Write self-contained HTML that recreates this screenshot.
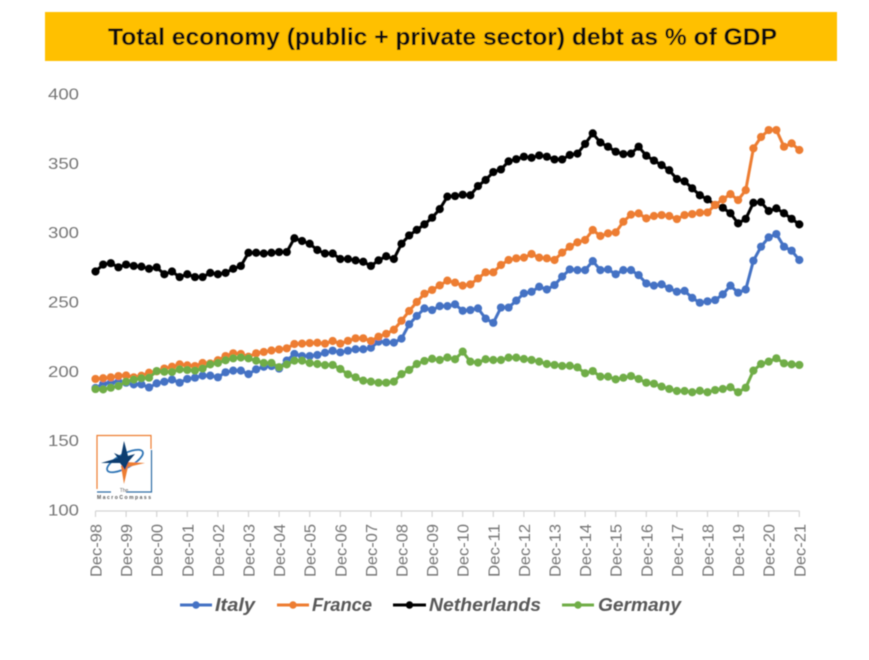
<!DOCTYPE html>
<html lang="en">
<head>
<meta charset="utf-8">
<title>Total economy debt as % of GDP</title>
<style>
html,body{margin:0;padding:0;background:#fff;}
body{width:869px;height:660px;overflow:hidden;}
svg{display:block;font-family:"Liberation Sans",sans-serif;}
</style>
</head>
<body>
<svg id="chart" width="869" height="660" viewBox="0 0 869 660" xmlns="http://www.w3.org/2000/svg">
  <defs>
    <filter id="soft" x="-5%" y="-5%" width="110%" height="110%"><feGaussianBlur stdDeviation="0.55"/></filter>
  </defs>
  <rect width="869" height="660" fill="#fff"/>
  <g filter="url(#soft)">
    <rect x="45" y="12" width="792" height="49" fill="#FFC000"/>
    <text x="108" y="45" font-size="24.500" font-weight="700" fill="#111" textLength="669" lengthAdjust="spacingAndGlyphs">Total economy (public + private sector) debt as % of GDP</text>
    <g id="y-axis"></g>
    <g id="x-axis"></g>
    <g id="series"></g>
    <g>
      <path d="M97 489V435.5H151V449" fill="none" stroke="#ED7D31" stroke-width="1.2"/>
      <path d="M151.500 450V492H126M111 492H97" fill="none" stroke="#2E6DA4" stroke-width="1.2"/>
      <ellipse cx="125" cy="461" rx="20" ry="7" transform="rotate(-28 125 461)" fill="none" stroke="#2E75B6" stroke-width="1.800"/>
      <polygon points="124,484 121,466 125,462 145,463 128,467" fill="#ED7D31"/>
      <polygon points="124,441 128,456 135,454 129,461 125,470 120,463 101,463 118,458 114,453 121,456" fill="#0B3C6F"/>
      <text x="124" y="492" font-size="5" fill="#666" text-anchor="middle">The</text>
      <text x="97" y="499" font-size="5" font-weight="700" fill="#555" textLength="54">MacroCompass</text>
    </g>
    <g id="legend"></g>
  </g>
</svg>
<script>
const quarterCount = 93;
const yTicks = [100, 150, 200, 250, 300, 350, 400];
const xTickLabels = ["Dec-98","Dec-99","Dec-00","Dec-01","Dec-02","Dec-03","Dec-04","Dec-05","Dec-06","Dec-07","Dec-08","Dec-09","Dec-10","Dec-11","Dec-12","Dec-13","Dec-14","Dec-15","Dec-16","Dec-17","Dec-18","Dec-19","Dec-20","Dec-21"];
const italy = [188,191,191.8,192.5,191.8,190.6,190.6,188.4,191.3,192.5,194,191.8,194.5,195.4,196.9,196.9,195.7,199.3,200.5,200.5,198,201.4,203.3,203.8,202,207.7,212.5,211,211,211.8,213.4,214.9,213.7,214.9,215.9,215.9,217,221.4,221,220.7,223.6,233.9,239.9,245.4,244.2,247,247,248.3,243.7,244.2,245.4,238,235,246,246,251,256.2,257.4,261,259,262.2,268.3,273.5,273,273,279.5,273,273.5,270,273,273,269.4,263.4,261.8,262.7,259.8,257.4,258,253,249.5,250.5,251.4,255.5,261.8,256.7,259,279.8,289.9,296.6,299,289.9,287,280.3];
const france = [194.5,195,195.7,196.6,197,195.7,196.8,199,200,202,203.3,205,204.3,203.8,206,205.7,208,211,213,212.5,210.5,213,214,215,215.8,216.6,219.7,220,220.4,220.6,220,221.9,220,222,223.8,223.8,221.9,225,227,230,236.5,243.5,250,256,258.7,262,265.4,264,261.8,262.7,267,271.4,271.4,276.7,280.3,281.5,282,284.6,282,281.5,280.3,285.6,289.9,293,294.7,301.9,297.6,299.5,300.2,307.9,313,313.9,310.3,312,312.7,312,309.8,312.7,313.4,314.4,314.6,320,324,327.8,323.5,330.7,360.8,369,374,374,362,364.4,359.6];
const netherlands = [272,277,278,275,277,276,275.5,274,275,270,272,268,270,268,268,271,270,271,274,276,285.5,285.5,285,285.5,286,286,296,294,292,287.5,285,285,281,281,280,279,276,280,283,281,292,298,302,306,310.8,317,326,326.4,327.4,327,333.6,338,343.7,345.6,351.4,353,354.8,354,355.7,354.8,352.8,352.8,356,357,364,371.6,365,362,358.4,356.7,357,362,355.5,352,348.7,345,338.7,337,332,327,324,320,318,314,306.7,310,321.6,322,315.6,317.5,314,310,306];
const germany = [187.2,187,188.2,189.4,192.5,194,195,195.4,200.2,199.7,199.5,201.4,201,200.5,202,205,206,208,209.4,210,209.4,207.7,206,206,203,205,207.7,207.7,206,205.3,204.5,204.6,201.7,197.8,195.7,193.3,192.6,191.8,191.8,192.6,198,201,205.3,207.5,209.1,208.2,210,208.7,214.2,207,206.3,208.7,208.2,208.2,209.9,209.9,208.9,208.2,207,205.3,204.6,203.9,204,202.9,198.6,200.2,196.2,196.2,194.2,195.4,196.6,194.5,191.8,191.1,189,187.3,185.8,185.8,184.9,186,184.9,186.5,187.3,188.5,184.9,188.2,200.5,205.3,207,209.4,205.8,205,204.6];
const seriesNames = ["Italy","France","Netherlands","Germany"];
const seriesColors = ["#4472C4","#ED7D31","#000000","#70AD47"];
const seriesValues = [italy, france, netherlands, germany];
const drawOrder = [2, 0, 1, 3];

const NS = "http://www.w3.org/2000/svg";
const plotLeft = 95.5, plotRight = 799.3, plotBottom = 510, plotTop = 94;
const yMin = 100, yMax = 400;
function xScale(i){ return plotLeft + (plotRight - plotLeft) * i / (quarterCount - 1); }
function yScale(v){ return plotBottom - (plotBottom - plotTop) * (v - yMin) / (yMax - yMin); }
function make(tag, attrs, parent){
  const el = document.createElementNS(NS, tag);
  for (const k in attrs) el.setAttribute(k, attrs[k]);
  parent.appendChild(el);
  return el;
}

const yAxis = document.getElementById("y-axis");
yTicks.forEach(function(t){
  const label = make("text", {x: 48, y: yScale(t) + 5.5, "font-size": 16, fill: "#767676", textLength: 31, lengthAdjust: "spacingAndGlyphs"}, yAxis);
  
  
  label.textContent = t;
});

const xAxis = document.getElementById("x-axis");
const axisLine = make("line", {x1: plotLeft, x2: plotRight, y1: plotBottom + 1, y2: plotBottom + 1, stroke: "#d4d4d4", "stroke-width": 1.2}, xAxis);


xTickLabels.forEach(function(name, k){
  const x = xScale(k * 4);
  const tick = make("line", {x1: x, x2: x, y1: plotBottom + 1, y2: plotBottom + 7, stroke: "#d4d4d4", "stroke-width": 1.2}, xAxis);
  
  
  const label = make("text", {transform: "translate(" + (x + 6) + ",577) rotate(-90)", "font-size": 16, fill: "#767676", textLength: 53, lengthAdjust: "spacingAndGlyphs"}, xAxis);
  
  
  label.textContent = name;
});

const seriesGroup = document.getElementById("series");
drawOrder.forEach(function(s){
  const vals = seriesValues[s];
  const g = make("g", {}, seriesGroup);
  
  
  const pts = vals.map(function(v, i){ return xScale(i).toFixed(2) + "," + yScale(v).toFixed(2); }).join(" ");
  const line = make("polyline", {points: pts, fill: "none", stroke: seriesColors[s], "stroke-width": 3, "stroke-linejoin": "round"}, g);
  
  
  vals.forEach(function(v, i){
    const dot = make("circle", {cx: xScale(i), cy: yScale(v), r: 4.1, fill: seriesColors[s]}, g);
    
    
  });
});

const legend = document.getElementById("legend");
const legendLineStart = [180, 277, 393, 562];
const legendLineEnd = [212, 309, 426, 594];
const legendTextStart = [215, 312, 429, 598];
const legendTextWidth = [40, 60, 112, 83];
seriesNames.forEach(function(name, s){
  const g = make("g", {}, legend);
  
  
  const l = make("line", {x1: legendLineStart[s], x2: legendLineEnd[s], y1: 605, y2: 605, stroke: seriesColors[s], "stroke-width": 3}, g);
  
  
  const c = make("circle", {cx: (legendLineStart[s] + legendLineEnd[s]) / 2, cy: 605, r: 3.700, fill: seriesColors[s]}, g);
  
  
  const t = make("text", {x: legendTextStart[s], y: 611, "font-size": 18.500, "font-weight": 700, "font-style": "italic", fill: "#595959", textLength: legendTextWidth[s], lengthAdjust: "spacingAndGlyphs"}, g);
  
  
  t.textContent = name;
});
</script>
</body>
</html>
